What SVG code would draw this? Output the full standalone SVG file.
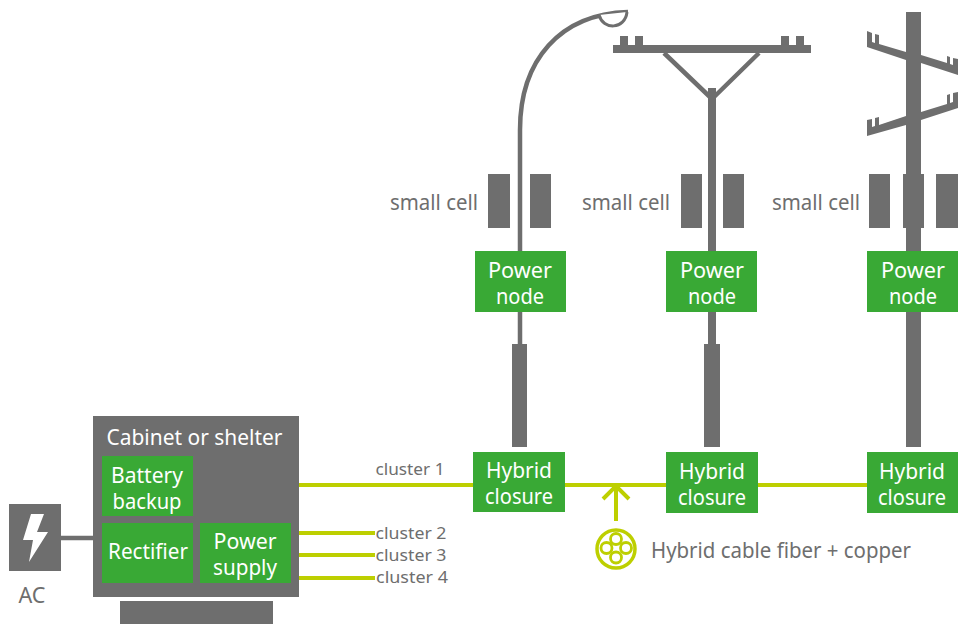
<svg xmlns="http://www.w3.org/2000/svg" width="958" height="624" viewBox="0 0 958 624">
<style>
.g{fill:#6e6e6e}
.n{fill:#39a935}
.t{font-family:"Noto Sans","Liberation Sans",sans-serif;text-anchor:middle}
.w{fill:#fff;font-size:21px}
.d{fill:#6e6e6e;font-size:21.500px}
.s{fill:#6e6e6e;font-size:16px}
.l{stroke:#bdcf00;stroke-width:4;fill:none}
</style>
<rect width="958" height="624" fill="#fff"/>
<g id="streetlight">
<path d="M520 345V130C520 60 560 14 628 12" fill="none" stroke="#6e6e6e" stroke-width="4.5"/>
<path d="M599 15C603 30 625 30 627 12" fill="#fff" stroke="#6e6e6e" stroke-width="3"/>
<rect class="g" x="512" y="344" width="15" height="103"/>
</g>
<g id="pole2">
<rect class="g" x="613" y="45" width="198" height="8"/>
<rect class="g" x="620" y="36" width="8" height="9"/><rect class="g" x="635" y="36" width="8" height="9"/>
<rect class="g" x="781" y="36" width="8" height="9"/><rect class="g" x="796" y="36" width="8" height="9"/>
<path d="M664 53L710 97M759 53L714 97" stroke="#6e6e6e" stroke-width="4.500" fill="none"/>
<rect class="g" x="708" y="88" width="8" height="260"/>
<rect class="g" x="704" y="344" width="16" height="103"/>
</g>
<g id="pole3">
<rect class="g" x="906" y="12" width="15" height="435"/>
<path class="g" d="M867 31L872 33V42L875 43V34L879 35V44L906 52V60L867 47Z"/>
<path class="g" d="M921 55L947 63V56L950 57V64L953 65V58L958 59V75L921 63Z"/>
<path class="g" d="M867 120L872 119V127L875 126V118L879 117V125L906 116V125L867 136Z"/>
<path class="g" d="M921 112L947 104V95L950 94V103L953 102V93L958 92V108L921 120Z"/>
</g>
<g id="connectors">
<path d="M61 538H93" stroke="#6e6e6e" stroke-width="4.5" fill="none"/>
<path class="l" d="M299 485H473M565 485H666M758 485H867M299 533H375M299 555H375M299 578H375"/>
<path class="l" d="M616 521V488M603 499L616 486L629 499"/>
</g>
<g id="small-cell-1"><rect class="g" x="488" y="174" width="22" height="54"/><rect class="g" x="530" y="174" width="21" height="54"/><text class="t d" x="434" y="210" textLength="88" lengthAdjust="spacingAndGlyphs">small cell</text></g>
<g id="small-cell-2"><rect class="g" x="681" y="174" width="21" height="54"/><rect class="g" x="723" y="174" width="21" height="54"/><text class="t d" x="626" y="210" textLength="88" lengthAdjust="spacingAndGlyphs">small cell</text></g>
<g id="small-cell-3"><rect class="g" x="869" y="174" width="21" height="54"/><rect class="g" x="903" y="174" width="21" height="54"/><rect class="g" x="936" y="174" width="22" height="54"/><text class="t d" x="816" y="210" textLength="88" lengthAdjust="spacingAndGlyphs">small cell</text></g>
<g id="power-node-1"><rect class="n" x="475" y="251" width="91" height="61"/><text class="t w" x="520" y="278" textLength="64" lengthAdjust="spacingAndGlyphs">Power</text><text class="t w" x="520" y="304" textLength="48" lengthAdjust="spacingAndGlyphs">node</text></g>
<g id="power-node-2"><rect class="n" x="666" y="251" width="91" height="61"/><text class="t w" x="712" y="278" textLength="64" lengthAdjust="spacingAndGlyphs">Power</text><text class="t w" x="712" y="304" textLength="48" lengthAdjust="spacingAndGlyphs">node</text></g>
<g id="power-node-3"><rect class="n" x="867" y="251" width="91" height="61"/><text class="t w" x="913" y="278" textLength="64" lengthAdjust="spacingAndGlyphs">Power</text><text class="t w" x="913" y="304" textLength="48" lengthAdjust="spacingAndGlyphs">node</text></g>
<g id="hybrid-closure-1"><rect class="n" x="473" y="452" width="92" height="60"/><text class="t w" x="519" y="478" textLength="66" lengthAdjust="spacingAndGlyphs">Hybrid</text><text class="t w" x="519" y="504" textLength="68" lengthAdjust="spacingAndGlyphs">closure</text></g>
<g id="hybrid-closure-2"><rect class="n" x="666" y="452" width="92" height="61"/><text class="t w" x="712" y="479" textLength="66" lengthAdjust="spacingAndGlyphs">Hybrid</text><text class="t w" x="712" y="505" textLength="68" lengthAdjust="spacingAndGlyphs">closure</text></g>
<g id="hybrid-closure-3"><rect class="n" x="867" y="452" width="91" height="61"/><text class="t w" x="912" y="479" textLength="66" lengthAdjust="spacingAndGlyphs">Hybrid</text><text class="t w" x="912" y="505" textLength="68" lengthAdjust="spacingAndGlyphs">closure</text></g>
<g id="cabinet">
<rect class="g" x="93" y="416" width="206" height="181"/>
<rect class="g" x="120" y="601" width="153" height="23"/>
<text class="t w" x="194.500" y="445" textLength="176" lengthAdjust="spacingAndGlyphs">Cabinet or shelter</text>
</g>
<g id="battery-backup"><rect class="n" x="102" y="456" width="91" height="60"/><text class="t w" x="147" y="483" textLength="72" lengthAdjust="spacingAndGlyphs">Battery</text><text class="t w" x="147" y="509" textLength="69" lengthAdjust="spacingAndGlyphs">backup</text></g>
<g id="rectifier"><rect class="n" x="102" y="523" width="91" height="60"/><text class="t w" x="148" y="559" textLength="80" lengthAdjust="spacingAndGlyphs">Rectifier</text></g>
<g id="power-supply"><rect class="n" x="200" y="523" width="91" height="60"/><text class="t w" x="245" y="549" textLength="63" lengthAdjust="spacingAndGlyphs">Power</text><text class="t w" x="245" y="575" textLength="64" lengthAdjust="spacingAndGlyphs">supply</text></g>
<g id="ac">
<rect class="g" x="9" y="504" width="52" height="67"/>
<path fill="#fff" d="M31 514H44L37 532H48L29 562L33 540H23Z"/>
<text class="t d" x="32" y="603" textLength="27" lengthAdjust="spacingAndGlyphs">AC</text>
</g>
<g id="cluster-labels">
<text class="t s" x="410" y="475" textLength="69" lengthAdjust="spacingAndGlyphs">cluster 1</text>
<text class="t s" x="411" y="539" textLength="71" lengthAdjust="spacingAndGlyphs">cluster 2</text>
<text class="t s" x="411" y="561" textLength="71" lengthAdjust="spacingAndGlyphs">cluster 3</text>
<text class="t s" x="412" y="583" textLength="72" lengthAdjust="spacingAndGlyphs">cluster 4</text>
</g>
<g id="hybrid-cable">
<circle cx="616" cy="549" r="19" fill="none" stroke="#bdcf00" stroke-width="3.500"/>
<g fill="none" stroke="#bdcf00" stroke-width="2.800"><circle cx="616" cy="539" r="5.500"/><circle cx="616" cy="557.500" r="5.500"/><circle cx="606.500" cy="548" r="5.500"/><circle cx="626" cy="548" r="5.500"/></g>
<text class="t d" x="781" y="558" textLength="260" lengthAdjust="spacingAndGlyphs">Hybrid cable fiber + copper</text>
</g>
</svg>
